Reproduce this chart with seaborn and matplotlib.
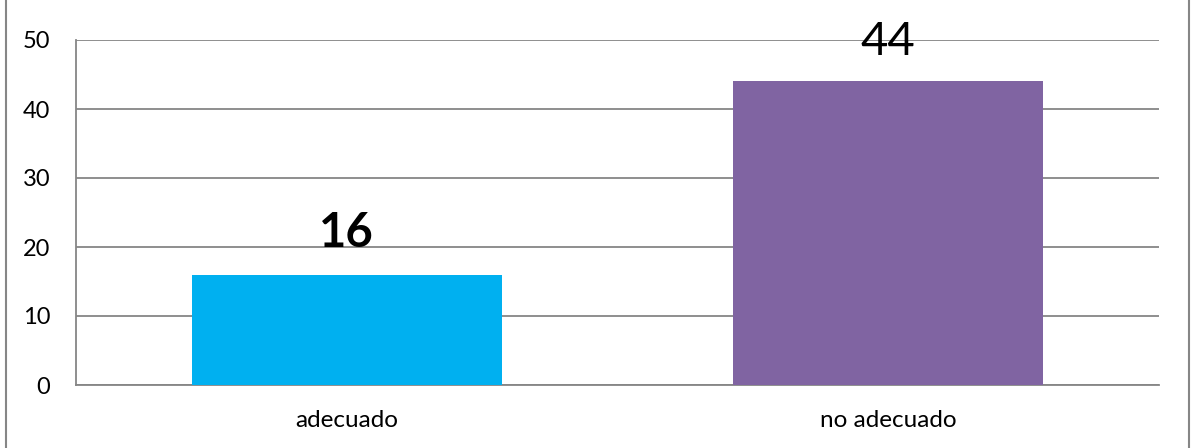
import matplotlib
matplotlib.use("Agg")
import matplotlib.pyplot as plt
import seaborn as sns
import pandas as pd
from matplotlib.lines import Line2D

categories = ["adecuado", "no adecuado"]
values = [16, 44]
bar_colors = ["#00B0F0", "#8064A2"]
y_ticks = [0, 10, 20, 30, 40, 50]

sns.set_theme(style="white")
plt.rcParams["font.family"] = ["Lato", "DejaVu Sans"]

W, H = 1195, 448
fig = plt.figure(figsize=(W / 100, H / 100), dpi=100)
ax = fig.add_axes([76 / W, 1 - 385 / H, (1159 - 76) / W, (385 - 40) / H])

df = pd.DataFrame({"categoria": categories, "valor": values})
sns.barplot(data=df, x="categoria", y="valor", hue="categoria",
            palette=bar_colors, width=0.573, legend=False, ax=ax,
            saturation=1, linewidth=0, zorder=3)

ax.set_ylim(0, 50)
ax.set_xlim(-0.5, 1.5)
ax.set_yticks(y_ticks)
ax.set_yticklabels([str(t) for t in y_ticks])
ax.yaxis.grid(True, color="#868686", linewidth=1.3, zorder=0)
ax.set_axisbelow(True)
ax.set_xlabel("")
ax.set_ylabel("")
for side in ["top", "right"]:
    ax.spines[side].set_visible(False)
for side in ["left", "bottom"]:
    ax.spines[side].set_color("#868686")
    ax.spines[side].set_linewidth(1.3)
ax.tick_params(axis="y", length=0, pad=18.5, labelsize=17, labelcolor="black")
ax.tick_params(axis="x", length=0, pad=18, labelsize=17.5, labelcolor="black")

# value labels above the bars
ax.text(0, values[0] + 4.0, str(values[0]), ha="center", va="baseline",
        fontsize=34, fontweight="bold", color="black", zorder=4)
ax.text(1, values[1] + 3.8, str(values[1]), ha="center", va="baseline",
        fontsize=34, color="black", zorder=4)

# outer chart border (vertical edges)
for xpix in (6.5, 1188.5):
    fig.add_artist(Line2D([xpix / W, xpix / W], [0, 1], transform=fig.transFigure,
                          color="#868686", linewidth=1.5))

fig.savefig("out.png", dpi=100)
